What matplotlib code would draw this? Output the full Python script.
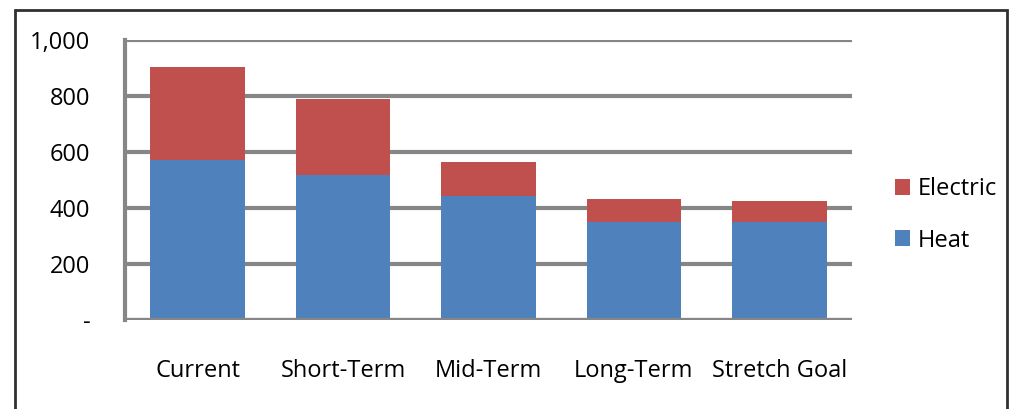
import matplotlib.pyplot as plt
from matplotlib.patches import Rectangle
from matplotlib.ticker import FuncFormatter

# stacked energy totals per scenario
categories = ['Current', 'Short-Term', 'Mid-Term', 'Long-Term', 'Stretch Goal']
heat = [573, 519, 442, 349, 349]
electric = [331, 269, 122, 84, 76]

plt.rcParams['font.family'] = ['Open Sans', 'DejaVu Sans']

fig = plt.figure(figsize=(10.13, 4.09), dpi=100)
ax = fig.add_axes([125 / 1013, 1 - 320 / 409, 727 / 1013, 280 / 409])

x = range(len(categories))
ax.bar(x, heat, width=0.65, color='#4F81BD', label='Heat', zorder=3)
ax.bar(x, electric, width=0.65, bottom=heat, color='#C0504D', label='Electric', zorder=3)

ax.set_xlim(-0.5, len(categories) - 0.5)
ax.set_ylim(0, 1000)
ax.set_yticks(range(0, 1001, 200))
ax.yaxis.set_major_formatter(FuncFormatter(lambda v, p: '-' if v == 0 else f'{int(v):,}'))
ax.set_xticks(list(x))
ax.set_xticklabels(categories)

grid_col = '#868686'
ax.grid(axis='y', color=grid_col, linewidth=3, zorder=0)
for s in ['top', 'right', 'bottom']:
    ax.spines[s].set_visible(False)
ax.spines['left'].set_color(grid_col)
ax.spines['left'].set_linewidth(3)
ax.axhline(0, color=grid_col, linewidth=3, zorder=4)
ax.tick_params(axis='y', length=0, labelsize=17, pad=25)
ax.tick_params(axis='x', length=0, labelsize=17, pad=28)

# legend with reversed order (Electric on top)
h, l = ax.get_legend_handles_labels()
fig.legend(h[::-1], l[::-1], loc='center left', bbox_to_anchor=(895 / 1013, 1 - 215 / 409),
           frameon=False, fontsize=17, handlelength=0.65, handleheight=0.65,
           handletextpad=0.3, labelspacing=1.15, borderpad=0, borderaxespad=0)

# outer chart border
fig.patches.append(Rectangle((15 / 1013, -0.05), (1007 - 15) / 1013, 1.05 - 10 / 409,
                             transform=fig.transFigure, fill=False, edgecolor='#303030',
                             linewidth=2))

fig.savefig('out.png', dpi=100)
